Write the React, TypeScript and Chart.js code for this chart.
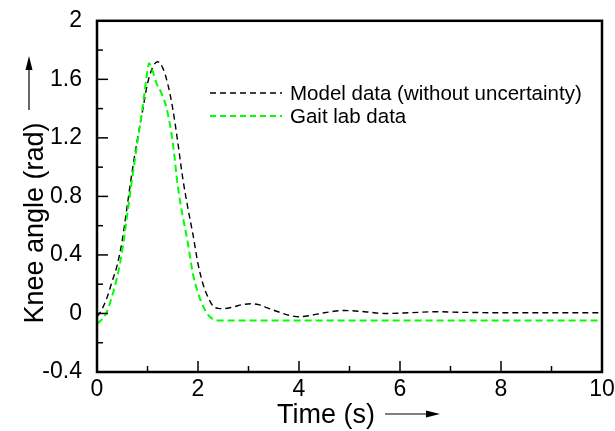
import { useEffect, useRef } from "react";
import { Chart, registerables } from "chart.js";

Chart.register(...registerables);

const modelTime = [0, 0.05, 0.1, 0.2, 0.3, 0.4, 0.5, 0.6, 0.7, 0.8, 0.9, 1.0, 1.1, 1.2, 1.3, 1.4, 1.5, 1.6, 1.7, 1.8, 1.9, 2.0, 2.1, 2.2, 2.3, 2.4, 2.5, 2.7, 2.9, 3.05, 3.2, 3.4, 3.6, 3.8, 4.0, 4.2, 4.5, 4.9, 5.3, 5.7, 6.2, 6.7, 7.2, 8, 9, 10];
const modelAngle = [-0.02, 0.0, 0.03, 0.11, 0.22, 0.33, 0.5, 0.74, 0.98, 1.19, 1.38, 1.57, 1.68, 1.72, 1.68, 1.57, 1.4, 1.17, 0.92, 0.72, 0.54, 0.34, 0.2, 0.11, 0.05, 0.035, 0.033, 0.045, 0.062, 0.066, 0.06, 0.035, 0.01, -0.012, -0.022, -0.015, 0.005, 0.02, 0.012, 0.0, 0.005, 0.012, 0.008, 0.005, 0.005, 0.005];

const gaitTime = [0, 0.1, 0.18, 0.3, 0.4, 0.5, 0.6, 0.7, 0.8, 0.9, 1.0, 1.03, 1.1, 1.17, 1.27, 1.38, 1.5, 1.6, 1.7, 1.8, 1.9, 2.0, 2.1, 2.2, 2.3, 2.4, 3, 5, 7, 10];
const gaitAngle = [-0.07, -0.04, 0.0, 0.12, 0.25, 0.43, 0.68, 0.93, 1.17, 1.4, 1.66, 1.71, 1.66, 1.58, 1.51, 1.4, 1.17, 0.87, 0.66, 0.48, 0.27, 0.14, 0.05, -0.01, -0.04, -0.048, -0.048, -0.048, -0.048, -0.048];

const seriesLabels = ["Model data (without uncertainty)", "Gait lab data"];
const seriesColors = ["#000000", "#00ff00"];
const xTitle = "Time (s)";
const yTitle = "Knee angle (rad)";
const xRange = [0, 10];
const yRange = [-0.4, 2];
const xMajorStep = 2;
const xMinorStep = 1;
const yMajorStep = 0.4;
const yMinorStep = 0.2;

const FONT = "'Liberation Sans', Arial, Helvetica, sans-serif";

function drawArrow(ctx: CanvasRenderingContext2D, x1: number, y1: number, x2: number, y2: number) {
  const ang = Math.atan2(y2 - y1, x2 - x1);
  const hl = 14;
  const hw = 3.5;
  ctx.save();
  ctx.strokeStyle = "#000";
  ctx.fillStyle = "#000";
  ctx.lineWidth = 1.2;
  ctx.beginPath();
  ctx.moveTo(x1, y1);
  ctx.lineTo(x2 - hl * Math.cos(ang), y2 - hl * Math.sin(ang));
  ctx.stroke();
  ctx.beginPath();
  ctx.moveTo(x2, y2);
  ctx.lineTo(x2 - hl * Math.cos(ang) - hw * Math.sin(ang), y2 - hl * Math.sin(ang) + hw * Math.cos(ang));
  ctx.lineTo(x2 - hl * Math.cos(ang) + hw * Math.sin(ang), y2 - hl * Math.sin(ang) - hw * Math.cos(ang));
  ctx.closePath();
  ctx.fill();
  ctx.restore();
}

const framePlugin = {
  id: "frame",
  afterDraw(chart: any) {
    const ctx: CanvasRenderingContext2D = chart.ctx;
    const { left, right, top, bottom } = chart.chartArea;
    const xs = chart.scales.x;
    const ys = chart.scales.y;
    ctx.save();
    ctx.strokeStyle = "#000";
    ctx.lineWidth = 2.5;
    ctx.strokeRect(left, top, right - left, bottom - top);
    ctx.lineWidth = 1.5;
    for (let v = yRange[0]; v <= yRange[1] + 1e-9; v += yMinorStep) {
      const r = Math.round(v * 10) / 10;
      const isMajor = Math.abs(r / yMajorStep - Math.round(r / yMajorStep)) < 1e-6;
      const y = ys.getPixelForValue(r);
      if (Math.abs(y - top) < 1 || Math.abs(y - bottom) < 1) continue;
      ctx.beginPath();
      ctx.moveTo(left, y);
      ctx.lineTo(left + (isMajor ? 11 : 6), y);
      ctx.stroke();
    }
    for (let v = xRange[0]; v <= xRange[1] + 1e-9; v += xMinorStep) {
      const isMajor = v % xMajorStep === 0;
      const x = xs.getPixelForValue(v);
      if (Math.abs(x - left) < 1 || Math.abs(x - right) < 1) continue;
      ctx.beginPath();
      ctx.moveTo(x, bottom);
      ctx.lineTo(x, bottom - (isMajor ? 11 : 6));
      ctx.stroke();
    }
    // legend
    ctx.font = `20.5px ${FONT}`;
    ctx.textBaseline = "middle";
    ctx.textAlign = "left";
    const legendY = [93, 116];
    const widths = [1.3, 2];
    seriesLabels.forEach((lab, i) => {
      ctx.strokeStyle = seriesColors[i];
      ctx.lineWidth = widths[i];
      ctx.setLineDash([6, 4]);
      ctx.beginPath();
      ctx.moveTo(210, legendY[i]);
      ctx.lineTo(282, legendY[i]);
      ctx.stroke();
      ctx.setLineDash([]);
      ctx.fillStyle = "#000";
      ctx.fillText(lab, 290, legendY[i] + 1);
    });
    // axis titles
    ctx.font = `27px ${FONT}`;
    ctx.fillStyle = "#000";
    ctx.textAlign = "center";
    ctx.textBaseline = "alphabetic";
    ctx.fillText(xTitle, 326, 423);
    drawArrow(ctx, 385, 414, 440, 414);
    ctx.save();
    ctx.translate(43, 223);
    ctx.rotate(-Math.PI / 2);
    ctx.fillText(yTitle, 0, 0);
    ctx.restore();
    drawArrow(ctx, 29, 110, 29, 56);
    ctx.restore();
  },
};

export default function App() {
  const ref = useRef<HTMLCanvasElement>(null);
  useEffect(() => {
    if (!ref.current) return;
    const chart = new Chart(ref.current, {
      type: "line",
      data: {
        datasets: [
          {
            label: seriesLabels[1],
            data: gaitTime.map((t, i) => ({ x: t, y: gaitAngle[i] })),
            borderColor: seriesColors[1],
            borderWidth: 2,
            borderDash: [7, 4],
            pointRadius: 0,
            cubicInterpolationMode: "monotone",
            fill: false,
          },
          {
            label: seriesLabels[0],
            data: modelTime.map((t, i) => ({ x: t, y: modelAngle[i] })),
            borderColor: seriesColors[0],
            borderWidth: 1.4,
            borderDash: [6, 4],
            pointRadius: 0,
            cubicInterpolationMode: "monotone",
            fill: false,
          },
        ],
      },
      options: {
        animation: false,
        responsive: false,
        events: [],
        layout: { padding: { top: 18, right: 13, left: 0, bottom: 0 } },
        plugins: { legend: { display: false }, tooltip: { enabled: false } },
        scales: {
          x: {
            type: "linear",
            min: xRange[0],
            max: xRange[1],
            grid: { display: false },
            border: { display: false },
            ticks: {
              stepSize: xMajorStep,
              color: "#000",
              padding: -4,
              maxRotation: 0,
              font: { family: FONT, size: 23 },
              callback: (v: any) => String(Math.round(v * 10) / 10),
            },
            afterFit: (s: any) => {
              s.height = 59;
            },
          },
          y: {
            type: "linear",
            min: yRange[0],
            max: yRange[1],
            grid: { display: false },
            border: { display: false },
            ticks: {
              stepSize: yMajorStep,
              color: "#000",
              padding: 7,
              font: { family: FONT, size: 23 },
              callback: (v: any) => String(Math.round(v * 10) / 10),
            },
            afterFit: (s: any) => {
              s.width = 97;
            },
          },
        },
      },
      plugins: [framePlugin],
    });
    return () => chart.destroy();
  }, []);
  return (
    <div style={{ position: "fixed", left: 0, top: 0, width: 615, height: 431, background: "#fff" }}>
      <canvas ref={ref} width={615} height={431} />
    </div>
  );
}
